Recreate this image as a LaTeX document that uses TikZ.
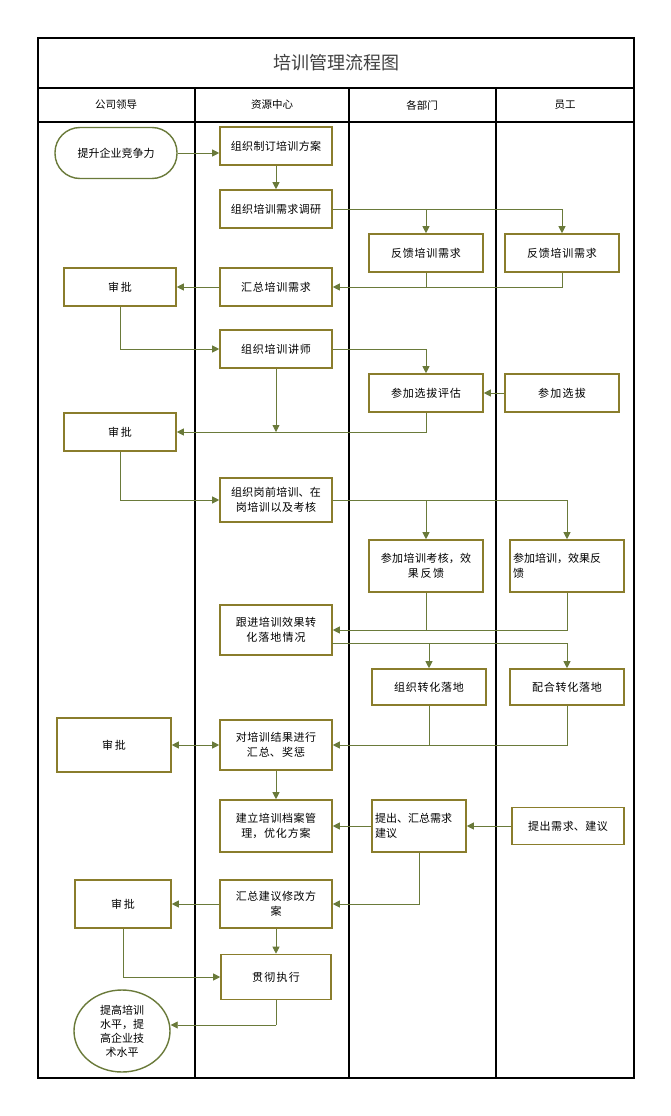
\documentclass[tikz,border=0pt]{standalone}
\usepackage{fontspec}
\setmainfont{Noto Sans CJK SC}
\XeTeXlinebreaklocale "zh"
\XeTeXlinebreakskip=0pt plus 1pt
\usetikzlibrary{arrows.meta,shapes.geometric}
\definecolor{bx}{HTML}{8A7D2C}
\definecolor{ln}{HTML}{6A7A3A}
\tikzset{x=1pt,y=-1pt,
 bx/.style={draw=bx,line width=1.6pt,fill=white,minimum width=112pt,minimum height=38pt,align=center,font=\fontsize{11}{15}\selectfont,inner sep=2pt,text width=104pt},
 term/.style={draw=ln,line width=1.4pt,rounded corners=25pt,fill=white,align=center,font=\fontsize{11}{15}\selectfont},
 ar/.style={draw=ln,line width=0.8pt,-{Triangle[length=7pt,width=7pt]}},
 pl/.style={draw=ln,line width=0.8pt},
 fr/.style={draw=black,line width=1.6pt},
 hd/.style={font=\fontsize{10.5}{12}\selectfont}}
\begin{document}
\begin{tikzpicture}
\useasboundingbox (0,0) rectangle (671,1116);
\fill[white] (0,0) rectangle (671,1116);
% frame
\draw[fr] (38,38) rectangle (634,1078);
\draw[fr] (38,88) -- (634,88);
\draw[fr] (38,122) -- (634,122);
\draw[fr] (195,88) -- (195,1078);
\draw[fr] (349,88) -- (349,1078);
\draw[fr] (496,88) -- (496,1078);
\node[font=\fontsize{18}{20}\selectfont,text=black!75] (title) at (336,63) {培训管理流程图};
\node[hd] (h1) at (116,105) {公司领导};
\node[hd] (h2) at (272,105) {资源中心};
\node[hd] (h3) at (422,105) {各部门};
\node[hd] (h4) at (565,105) {员工};
% nodes
\node[term,minimum width=122pt,minimum height=51pt] (start) at (116,153) {提升企业竞争力};
\node[bx] (a1) at (276,146) {组织制订培训方案};
\node[bx] (a2) at (276,209) {组织培训需求调研};
\node[bx,minimum width=114pt] (d1) at (426,253) {反馈培训需求};
\node[bx,minimum width=114pt] (e1) at (562,253) {反馈培训需求};
\node[bx] (s1) at (120,287) {审批};
\node[bx] (a3) at (276,287) {汇总培训需求};
\node[bx] (a4) at (276,349) {组织培训讲师};
\node[bx,minimum width=114pt] (d2) at (426,393) {参加选拔评估};
\node[bx,minimum width=114pt] (e2) at (562,393) {参加选拔};
\node[bx] (s2) at (120,432) {审批};
\node[bx,minimum height=44pt] (a5) at (276,500) {组织岗前培训、在\\岗培训以及考核};
\node[bx,minimum width=114pt,minimum height=52pt,text width=108pt] (d3) at (426,566) {参加培训考核，效\\果反馈};
\node[bx,minimum width=114pt,minimum height=52pt,text width=108pt,align=left] (e3) at (567,566) {参加培训，效果反\\馈};
\node[bx,minimum height=50pt] (a6) at (276,630) {跟进培训效果转\\化落地情况};
\node[bx,minimum width=114pt,minimum height=36pt] (d4) at (429,687) {组织转化落地};
\node[bx,minimum width=114pt,minimum height=36pt] (e4) at (567,687) {配合转化落地};
\node[bx,minimum width=114pt,minimum height=54pt] (s3) at (114,745) {审批};
\node[bx,minimum height=50pt] (a7) at (276,745) {对培训结果进行\\汇总、奖惩};
\node[bx,minimum height=52pt] (a8) at (276,826) {建立培训档案管\\理，优化方案};
\node[bx,minimum width=94pt,minimum height=52pt,text width=88pt,align=left] (d5) at (419,826) {提出、汇总需求\\建议};
\node[bx,minimum width=112pt,minimum height=37pt] (e5) at (568,826) {提出需求、建议};
\node[bx,minimum width=96pt,minimum height=48pt,text width=90pt] (s4) at (123,904) {审批};
\node[bx,minimum height=48pt] (a9) at (276,904) {汇总建议修改方\\案};
\node[bx,minimum width=110pt,minimum height=45pt,text width=100pt] (a10) at (276,977) {贯彻执行};
\node[ellipse,draw=ln,line width=1.4pt,fill=white,minimum width=96pt,minimum height=82pt,inner sep=0pt,align=center,font=\fontsize{11}{14}\selectfont] (end) at (122,1031) {提高培训\\水平，提\\高企业技\\术水平};
% connectors
\draw[ar] (start.east) -- (start.east -| a1.west);
\draw[ar] (a1) -- (a2);
\draw[ar] (a2.east) -| (d1.north);
\draw[ar] (a2.east) -| (e1.north);
\draw[ar] (d1.south) |- (a3.east);
\draw[pl] (e1.south) |- (d1.south |- a3.east);
\draw[ar] (a3) -- (s1);
\draw[ar] (s1.south) |- (a4.west);
\draw[ar] (a4.east) -| (d2.north);
\draw[ar] (e2) -- (d2);
\coordinate (j1) at (276,432);
\draw[ar] (d2.south) |- (s2.east);
\draw[ar] (a4.south) -- (j1);
\draw[ar] (s2.south) |- (a5.west);
\draw[ar] (a5.east) -| (d3.north);
\draw[ar] (a5.east) -| (e3.north);
\draw[ar] (d3.south) |- (a6.east);
\draw[pl] (e3.south) |- (d3.south |- a6.east);
\coordinate (k1) at (332,643);
\draw[ar] (k1) -| (d4.north);
\draw[ar] (k1) -| (e4.north);
\draw[ar] (d4.south) |- (a7.east);
\draw[pl] (e4.south) |- (d4.south |- a7.east);
\draw[draw=ln,line width=0.8pt,{Triangle[length=7pt,width=7pt]}-{Triangle[length=7pt,width=7pt]}] (s3) -- (a7);
\draw[ar] (a7) -- (a8);
\draw[ar] (e5) -- (d5);
\draw[ar] (d5) -- (a8);
\draw[ar] (d5.south) |- (a9.east);
\draw[ar] (a9) -- (s4);
\draw[ar] (a9) -- (a10);
\draw[ar] (s4.south) |- (a10.west);
\coordinate (m1) at (276,1025);
\draw[pl] (a10.south) -- (m1);
\draw[ar] (m1) -- (end.east |- m1);
\end{tikzpicture}
\end{document}
